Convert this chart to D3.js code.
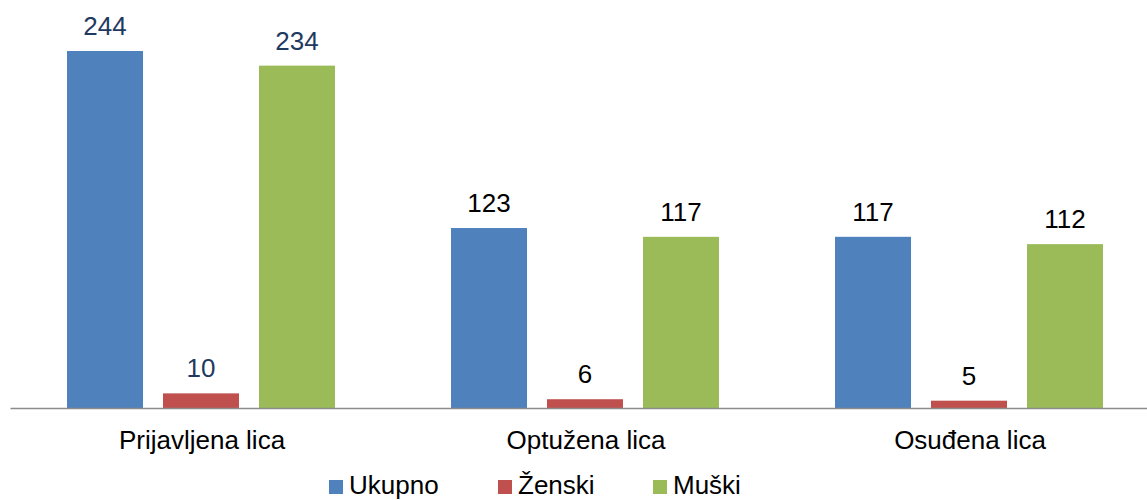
<!DOCTYPE html>
<html>
<head>
<meta charset="utf-8">
<script src="https://cdn.jsdelivr.net/npm/d3@7"></script>
<style>
  body { margin: 0; background: #fff; }
  text { font-family: "Liberation Sans", Arial, sans-serif; }
</style>
</head>
<body>
<div id="chart"></div>
<script>
// podaci
var categories = ["Prijavljena lica", "Optužena lica", "Osuđena lica"];
var seriesNames = ["Ukupno", "Ženski", "Muški"];
var ukupno = [244, 123, 117];
var zenski = [10, 6, 5];
var muski = [234, 117, 112];
var labelColors = ["#1f3a60", "#000000", "#000000"];

var colors = ["#4f81bd", "#c0504d", "#9bbb59"];
var seriesValues = [ukupno, zenski, muski];

var width = 1147, height = 500;
var baseY = 408;

var svg = d3.select("#chart")
  .append("svg")
  .attr("width", width)
  .attr("height", height);

// skale
var x0 = d3.scaleBand()
  .domain(categories)
  .range([10, 1162]);

var x1 = d3.scaleBand()
  .domain(seriesNames)
  .range([57, 384 - 59])
  .paddingInner(20 / 96);

var y = d3.scaleLinear()
  .domain([0, 244])
  .range([baseY, 51]);

var data = [];
categories.forEach(function(c, i) {
  seriesNames.forEach(function(s, j) {
    data.push({ cat: c, ser: s, value: seriesValues[j][i], ci: i, si: j });
  });
});

// stupci
svg.selectAll(".bar")
  .data(data)
  .enter().append("rect")
  .attr("class", "bar")
  .attr("x", function(d) { return x0(d.cat) + x1(d.ser); })
  .attr("y", function(d) { return y(d.value); })
  .attr("width", x1.bandwidth())
  .attr("height", function(d) { return baseY - y(d.value); })
  .attr("fill", function(d) { return colors[d.si]; });

// oznake vrijednosti
svg.selectAll(".label")
  .data(data)
  .enter().append("text")
  .attr("class", "label")
  .attr("x", function(d) { return x0(d.cat) + x1(d.ser) + x1.bandwidth() / 2; })
  .attr("y", function(d) { return y(d.value) - 16; })
  .attr("text-anchor", "middle")
  .attr("font-size", "26px")
  .attr("fill", function(d) { return labelColors[d.ci]; })
  .text(function(d) { return d.value; });

// os x
var xAxis = svg.append("g")
  .attr("transform", "translate(0," + baseY + ")")
  .call(d3.axisBottom(x0).tickSize(0).tickPadding(0));
xAxis.select(".domain").attr("stroke", "#8c8c8c").attr("stroke-width", 1.5);
xAxis.selectAll("text")
  .attr("dy", null)
  .attr("y", 41)
  .attr("font-size", "26px")
  .attr("font-family", "Liberation Sans, Arial, sans-serif")
  .attr("fill", "#000");

// legenda
var legendX = [329, 498, 653];
var legend = svg.selectAll(".legend")
  .data(seriesNames)
  .enter().append("g")
  .attr("class", "legend")
  .attr("transform", function(d, i) { return "translate(" + legendX[i] + ",480)"; });

legend.append("rect")
  .attr("width", 14)
  .attr("height", 14)
  .attr("fill", function(d, i) { return colors[i]; });

legend.append("text")
  .attr("x", 20)
  .attr("y", 14)
  .attr("font-size", "26px")
  .attr("fill", "#000")
  .text(function(d) { return d; });
</script>
</body>
</html>
